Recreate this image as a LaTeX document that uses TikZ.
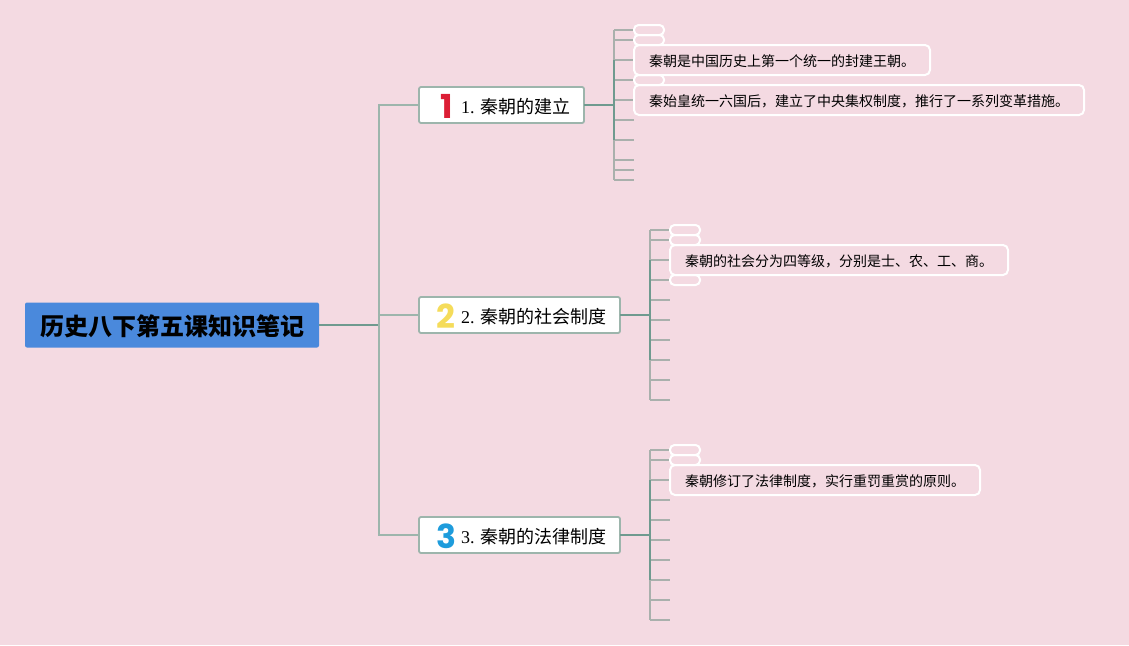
\documentclass[tikz,border=0pt]{standalone}
\usepackage{fontspec}
\setmainfont{Liberation Serif}
\newfontfamily\cjk{Noto Sans CJK SC}
\newfontfamily\iconfont{Poppins}
\definecolor{bgpink}{HTML}{F4DAE2}
\definecolor{rootblue}{HTML}{4A89DC}
\definecolor{trunk}{HTML}{6F9A8F}
\definecolor{limb}{HTML}{9DB5AC}
\definecolor{twig}{HTML}{A9B0AC}
\definecolor{iconred}{HTML}{DC1E35}
\definecolor{iconyellow}{HTML}{F5DC5A}
\definecolor{iconblue}{HTML}{1E9CDC}
\tikzset{
  x=1pt,y=-1pt,
  rootbox/.style={fill=rootblue,rounded corners=2pt,inner sep=0pt,outer sep=0pt,anchor=west},
  branchbox/.style={draw=limb,line width=1.8pt,fill=white,rounded corners=2pt,inner sep=0pt,outer sep=0pt,minimum height=36pt,anchor=west},
  leafbox/.style={draw=white,line width=2pt,rounded corners=5pt,inner sep=0pt,outer sep=0pt,minimum height=30pt,anchor=west},
  blankbox/.style={draw=white,line width=2pt,rounded corners=4.5pt,inner sep=0pt,outer sep=0pt,minimum height=10pt,minimum width=30pt,anchor=west},
  icon/.style={font=\iconfont\bfseries\fontsize{33}{33}\selectfont,inner sep=0pt},
  branchtext/.style={anchor=west,inner sep=0pt,font=\fontsize{18}{22}\selectfont,text=black},
  leaftext/.style={anchor=west,inner sep=0pt,font=\cjk\fontsize{14}{16}\selectfont,text=black},
  roottext/.style={anchor=west,inner sep=0pt,font=\cjk\bfseries\fontsize{24}{26}\selectfont,text=black},
  trunkline/.style={draw=trunk,line width=1.8pt},
  limbline/.style={draw=limb,line width=1.5pt},
  twigline/.style={draw=twig,line width=1.5pt},
}
\begin{document}
\begin{tikzpicture}
\useasboundingbox (0,0) rectangle (1129,645);
\fill[bgpink] (0,0) rectangle (1129,645);

% central and main nodes
\node[rootbox,minimum width=294pt,minimum height=45pt] (root) at (25,325) {};
\node[roottext] (troot) at (40.5,326) {历史八下第五课知识笔记};
\node[branchbox,minimum width=165pt] (b1) at (419,105) {};
\node[branchbox,minimum width=201pt] (b2) at (419,315) {};
\node[branchbox,minimum width=201pt] (b3) at (419,535) {};
\node[icon,text=iconred] (i1) at (446.5,106) {1};
\node[icon,text=iconyellow] (i2) at (446,316) {2};
\node[icon,text=iconblue] (i3) at (446,536) {3};
\node[branchtext] (t1) at (461,106.5) {1. {\cjk 秦朝的建立}};
\node[branchtext] (t2) at (461,316.5) {2. {\cjk 秦朝的社会制度}};
\node[branchtext] (t3) at (461,536.5) {3. {\cjk 秦朝的法律制度}};

\coordinate (hub) at (379,325);
\draw[trunkline] (root.east) -- (hub);
\draw[limbline] (hub) |- (b1.west);
\draw[limbline] (hub) -- ++(0,-10) -- (b2.west);
\draw[limbline] (hub) |- (b3.west);

% branch 1
\coordinate (s1) at (614,105);
\draw[trunkline] (b1.east) -- (s1);
\foreach \n/\y in {a/30,b/40,c/60,d/80,e/100,f/120,g/140,h/160,i/170,j/180}{
  \coordinate (e1\n) at (634,\y);
  \draw[twigline] (614,\y) -- (e1\n);
}
\draw[twigline,rounded corners=1pt] (614,30) -- (614,180);
\draw[trunkline] (s1) -- (614,60) (s1) -- (614,140);
\node[blankbox] (l1a) at (e1a) {};
\node[blankbox] (l1b) at (e1b) {};
\node[blankbox] (l1d) at (e1d) {};
\node[leafbox,minimum width=296pt] (l1c) at (e1c) {};
\node[leafbox,minimum width=450pt] (l1e) at (e1e) {};
\node[leaftext] (tl1c) at (649,61) {秦朝是中国历史上第一个统一的封建王朝。};
\node[leaftext] (tl1e) at (649,101) {秦始皇统一六国后，建立了中央集权制度，推行了一系列变革措施。};

% branch 2
\coordinate (s2) at (650,315);
\draw[trunkline] (b2.east) -- (s2);
\foreach \n/\y in {a/230,b/240,c/260,d/280,e/300,f/320,g/340,h/360,i/380,j/400}{
  \coordinate (e2\n) at (670,\y);
  \draw[twigline] (650,\y) -- (e2\n);
}
\draw[twigline,rounded corners=1pt] (650,230) -- (650,400);
\draw[trunkline] (650,260) -- (650,360);
\node[blankbox] (l2a) at (e2a) {};
\node[blankbox] (l2b) at (e2b) {};
\node[blankbox] (l2d) at (e2d) {};
\node[leafbox,minimum width=338pt] (l2c) at (e2c) {};
\node[leaftext] (tl2c) at (685,261) {秦朝的社会分为四等级，分别是士、农、工、商。};

% branch 3
\coordinate (s3) at (650,535);
\draw[trunkline] (b3.east) -- (s3);
\foreach \n/\y in {a/450,b/460,c/480,d/500,e/520,f/540,g/560,h/580,i/600,j/620}{
  \coordinate (e3\n) at (670,\y);
  \draw[twigline] (650,\y) -- (e3\n);
}
\draw[twigline,rounded corners=1pt] (650,450) -- (650,620);
\draw[trunkline] (650,480) -- (650,580);
\node[blankbox] (l3a) at (e3a) {};
\node[blankbox] (l3b) at (e3b) {};
\node[leafbox,minimum width=310pt] (l3c) at (e3c) {};
\node[leaftext] (tl3c) at (685,481) {秦朝修订了法律制度，实行重罚重赏的原则。};
\end{tikzpicture}
\end{document}
